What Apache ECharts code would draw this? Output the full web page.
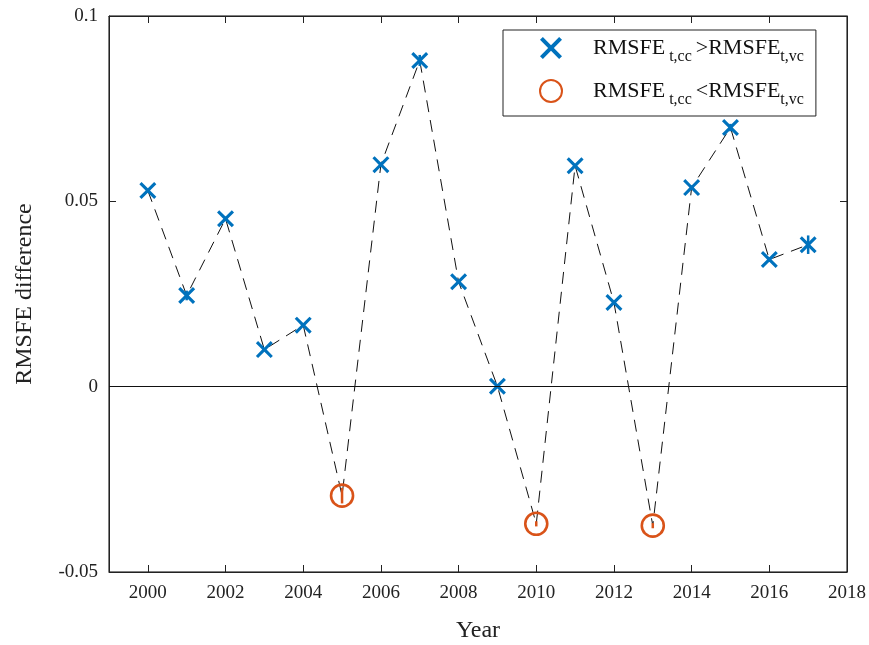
<!DOCTYPE html>
<html><head><meta charset="utf-8">
<script src="https://cdn.jsdelivr.net/npm/echarts@6/dist/echarts.min.js"></script>
<style>html,body{margin:0;padding:0;background:#fff}#c{width:869px;height:645px}</style>
</head><body><div id="c"></div>
<script>
var years = [2000,2001,2002,2003,2004,2005,2006,2007,2008,2009,2010,2011,2012,2013,2014,2015,2016,2017];
var diffs = [0.0529,0.0246,0.0453,0.0100,0.0166,-0.0294,0.0599,0.0880,0.0283,0.0001,-0.0370,0.0596,0.0227,-0.0375,0.0537,0.0699,0.0343,0.0383];
var errHalf = [0.0005,0.0013,0.0006,0.0004,0.0005,0.0021,0.0006,0.0015,0.0004,0.0003,0.0007,0.0005,0.0005,0.0007,0.0006,0.0010,0.0006,0.0025];
var xTicks = [2000,2002,2004,2006,2008,2010,2012,2014,2016,2018];
var labelGt = 'RMSFE_t,cc >RMSFE_t,vc';
var labelLt = 'RMSFE_t,cc <RMSFE_t,vc';

var blue = '#0072BD', red = '#D95319';
var crossPath = 'path://M0,1.3L1.3,0L5,3.7L8.7,0L10,1.3L6.3,5L10,8.7L8.7,10L5,6.3L1.3,10L0,8.7L3.7,5Z';
var lineData = years.map(function(y,i){return [y,diffs[i]];});
var gtData = [], ltData = [], errData = [];
years.forEach(function(y,i){
  if (diffs[i] >= 0) gtData.push([y,diffs[i]]); else ltData.push([y,diffs[i]]);
  errData.push([y, diffs[i]-errHalf[i], diffs[i]+errHalf[i], diffs[i] >= 0 ? 1 : 0]);
});
var serif = 'Liberation Serif';
var chart = echarts.init(document.getElementById('c'));
var legendFmt = function(name){
  var p = name.split(/_| /);
  return '{g|}{b|' + p[0] + '}{s| ' + p[1] + ' }{b|' + p[2] + '}{s|' + p[3] + '}';
};
chart.setOption({
  animation: false,
  backgroundColor: '#fff',
  grid: {left: 109, right: 22, top: 16, bottom: 73, show: true, borderColor: '#000', borderWidth: 1,
    outerBoundsMode: 'none', containLabel: false},
  xAxis: [{
    type: 'value', min: 1999, max: 2018,
    name: 'Year', nameLocation: 'middle', nameGap: 47,
    nameTextStyle: {fontFamily: serif, fontSize: 24, color: '#222'},
    axisLine: {show: true, onZero: false, lineStyle: {color: '#222'}},
    axisTick: {show: true, inside: true, length: 7, customValues: xTicks, lineStyle: {color: '#222'}},
    axisLabel: {customValues: xTicks, fontFamily: serif, fontSize: 19, color: '#222', margin: 12,
      formatter: function(v){return String(v);}},
    splitLine: {show: false}
  },{
    type: 'value', min: 1999, max: 2018, position: 'top',
    axisLine: {show: true, onZero: false, lineStyle: {color: '#222'}},
    axisTick: {show: true, inside: true, length: 7, customValues: xTicks, lineStyle: {color: '#222'}},
    axisLabel: {show: false}, splitLine: {show: false}
  }],
  yAxis: [{
    type: 'value', min: -0.05, max: 0.1, interval: 0.05,
    name: 'RMSFE difference', nameLocation: 'middle', nameGap: 72, nameRotate: 90,
    nameTextStyle: {fontFamily: serif, fontSize: 24, color: '#222'},
    axisLine: {show: true, onZero: false, lineStyle: {color: '#222'}},
    axisTick: {show: true, inside: true, length: 7, lineStyle: {color: '#222'}},
    axisLabel: {fontFamily: serif, fontSize: 19, color: '#222', margin: 11},
    splitLine: {show: false}
  },{
    type: 'value', min: -0.05, max: 0.1, interval: 0.05, position: 'right',
    axisLine: {show: true, onZero: false, lineStyle: {color: '#222'}},
    axisTick: {show: true, inside: true, length: 7, lineStyle: {color: '#222'}},
    axisLabel: {show: false}, splitLine: {show: false}
  }],
  legend: {
    left: 503, top: 30,
    orient: 'vertical', itemGap: 14,
    padding: [7, 12, 8, 36],
    borderColor: '#222', borderWidth: 1, backgroundColor: '#fff',
    itemWidth: 22, itemHeight: 22,
    data: [labelGt, labelLt],
    formatter: legendFmt,
    textStyle: {
      fontFamily: serif, color: '#111',
      rich: {
        g: {width: 26},
        b: {fontFamily: serif, fontSize: 22, color: '#111'},
        s: {fontFamily: serif, fontSize: 16, color: '#111', padding: [18, 0, 0, 0]}
      }
    }
  },
  series: [{
    type: 'line', data: lineData, symbol: 'none', silent: true,
    lineStyle: {color: '#111', width: 1, type: [12, 8]},
    z: 2,
    markLine: {
      silent: true, symbol: 'none', label: {show: false},
      lineStyle: {color: '#111', width: 1, type: 'solid'},
      data: [{yAxis: 0}]
    }
  },{
    type: 'custom', data: errData, silent: true, z: 3,
    renderItem: function(params, api){
      var a = api.coord([api.value(0), api.value(1)]);
      var b = api.coord([api.value(0), api.value(2)]);
      return {type: 'line', shape: {x1: a[0], y1: a[1], x2: b[0], y2: b[1]},
        style: {stroke: api.value(3) ? blue : red, lineWidth: 2.5}};
    }
  },{
    name: labelGt, type: 'scatter', data: gtData, symbol: crossPath, symbolSize: 17, z: 4,
    itemStyle: {color: blue, opacity: 1}
  },{
    name: labelLt, type: 'scatter', data: ltData, symbol: 'circle', symbolSize: 22, z: 4,
    itemStyle: {color: 'rgba(0,0,0,0)', borderColor: red, borderWidth: 2.6, opacity: 1}
  }]
});
</script></body></html>
